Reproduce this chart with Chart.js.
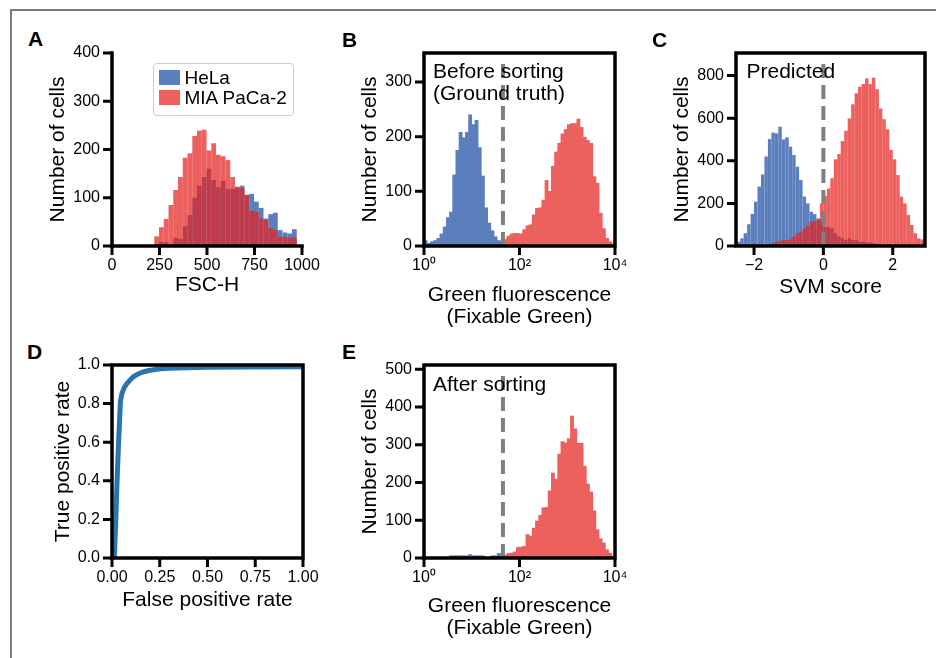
<!DOCTYPE html>
<html>
<head>
<meta charset="utf-8">
<script src="https://cdn.jsdelivr.net/npm/chart.js@4/dist/chart.umd.min.js"></script>
<style>
  html, body { margin: 0; padding: 0; background: #fff; }
  body { width: 936px; height: 658px; position: relative; overflow: hidden;
         font-family: 'Liberation Sans', Arial, Helvetica, sans-serif; color: #000; }
  .frame { position: absolute; left: 10px; top: 9px; right: 0; bottom: 0;
           border-top: 2px solid #7a7a7a; border-left: 2px solid #7a7a7a; }
  .panel { position: absolute; }
  .panel canvas { display: block; }
  .letter { position: absolute; font-weight: bold; font-size: 21px; line-height: 21px; z-index: 5; }
  .note { position: absolute; font-size: 21px; line-height: 22.7px; white-space: pre; z-index: 5; }
  .legend { position: absolute; box-sizing: border-box; border: 1.5px solid #cccccc; border-radius: 4px;
            background: rgba(255,255,255,0.85); z-index: 5; }
  .legend .sw { position: absolute; width: 21px; height: 15px; }
  .legend .tx { position: absolute; font-size: 19px; line-height: 19px; white-space: nowrap; }
</style>
</head>
<body>
<div class="frame"></div>

<div class="panel" style="left:46px;top:40px;"><canvas id="cA" width="280" height="258"></canvas></div>
<div class="panel" style="left:358px;top:40px;"><canvas id="cB" width="279" height="288"></canvas></div>
<div class="panel" style="left:670px;top:40px;"><canvas id="cC" width="266" height="260"></canvas></div>
<div class="panel" style="left:51px;top:352px;"><canvas id="cD" width="276" height="261"></canvas></div>
<div class="panel" style="left:358px;top:352px;"><canvas id="cE" width="279" height="287"></canvas></div>

<div class="letter" style="left:28px;top:28.3px;">A</div>
<div class="letter" style="left:342px;top:28.8px;">B</div>
<div class="letter" style="left:652px;top:28.8px;">C</div>
<div class="letter" style="left:27px;top:340.5px;">D</div>
<div class="letter" style="left:342px;top:340.5px;">E</div>

<div class="note" style="left:433px;top:59.7px;">Before sorting
(Ground truth)</div>
<div class="note" style="left:746.5px;top:59.7px;">Predicted</div>
<div class="note" style="left:433px;top:373px;">After sorting</div>

<div class="legend" id="legA" style="left:153px;top:63px;width:141px;height:53px;"></div>

<script>
// ---------------- data ----------------
const seriesNames = ['HeLa', 'MIA PaCa-2'];

// Panel A: FSC-H histogram (bin centres, counts)
const fscBins = [235,260,285,310,335,360,385,410,435,460,485,510,535,560,585,610,635,660,685,710,735,760,785,810,835,860,885,910,935,960];
const helaFsc = [0,8,8,3,17,15,41,64,100,125,143,160,137,122,135,118,118,123,125,106,108,92,79,57,66,69,33,28,26,35];
const miaFsc  = [20,39,56,85,116,143,183,192,228,239,241,198,213,189,186,178,143,120,120,106,73,71,57,54,37,33,19,19,18,18];

// Panels B / E: green fluorescence, 60 log-spaced bins between 10^0 and 10^4
const fluoBinCount = 60;
const fluoBins = Array.from({ length: fluoBinCount }, (_, k) => Math.pow(10, 4 * (k + 0.5) / fluoBinCount));
const helaFluoBefore = [10,5,8,10,14,22,35,52,62,130,175,208,198,208,240,222,230,180,128,70,42,28,17,10,8,
  0,0,0,0,0,0,0,0,0,0,0,0,0,0,0,0,0,0,0,0,0,0,0,0,0,0,0,0,0,0,0,0,0,0,0];
const miaFluoBefore = [0,0,0,0,0,0,0,0,0,0,0,0,0,0,0,0,0,0,0,0,0,0,0,0,0,
  12,18,22,23,23,22,30,37,39,57,69,70,84,120,100,146,172,188,205,213,222,224,224,232,217,199,193,188,127,115,60,32,14,8,4];
const helaFluoAfter = [0,0,0,0,0,0,0,0,6,6,6,6,6,6,9,6,6,6,6,0,0,6,6,12,12,
  0,0,0,0,0,0,0,0,0,0,0,0,0,0,0,0,0,0,0,0,0,0,0,0,0,0,0,0,0,0,0,0,0,0,0];
const miaFluoAfter = [0,0,0,0,0,0,0,0,0,0,0,0,0,0,0,0,0,0,0,0,0,0,0,0,0,
  8,12,13,16,28,29,31,62,58,79,98,113,133,134,178,225,209,275,308,305,316,376,342,304,304,243,196,175,125,75,51,40,22,13,5];
const fluoThreshold = 45;

// Panel C: SVM score histogram
const svmBins = [-2.45,-2.35,-2.25,-2.15,-2.05,-1.95,-1.85,-1.75,-1.65,-1.55,-1.45,-1.35,-1.25,-1.15,-1.05,-0.95,-0.85,-0.75,-0.65,-0.55,-0.45,-0.35,-0.25,-0.15,-0.05,
  0.05,0.15,0.25,0.35,0.45,0.55,0.65,0.75,0.85,0.95,1.05,1.15,1.25,1.35,1.45,1.55,1.65,1.75,1.85,1.95,2.05,2.15,2.25,2.35,2.45,2.55,2.65,2.75,2.85];
const helaSvm = [20,36,60,102,150,208,279,336,420,502,532,529,560,500,510,466,427,372,310,232,200,161,150,130,125,
  90,90,83,60,44,36,28,36,28,28,20,20,16,16,14,10,8,5,0,0,0,0,0,0,0,0,0,0,0];
const miaSvm = [0,0,0,0,0,0,0,0,0,0,15,20,23,28,28,31,44,60,67,83,94,114,117,122,200,
  235,270,318,407,432,493,541,599,665,717,748,760,787,760,790,736,646,595,548,451,407,333,232,200,146,99,60,36,31];
const svmThreshold = 0;

// Panel D: ROC curve
const rocFpr = [0.012,0.02,0.026,0.03,0.035,0.04,0.044,0.052,0.065,0.079,0.1,0.113,0.14,0.166,0.2,0.253,0.3,0.39,0.5,0.7,1.0];
const rocTpr = [0.0,0.2,0.386,0.49,0.61,0.72,0.81,0.853,0.885,0.905,0.928,0.94,0.955,0.965,0.973,0.98,0.983,0.986,0.988,0.99,0.991];

// axis ticks
const fscTicks = [0,250,500,750,1000];
const countTicksA = [0,100,200,300,400];
const countTicksB = [0,100,200,300];
const countTicksC = [0,200,400,600,800];
const countTicksE = [0,100,200,300,400,500];
const fluoTicks = [1,100,10000];
const fluoTickLabels = ['10\u2070','10\u00B2','10\u2074'];
const svmTicks = [-2,0,2];
const rateTicksX = [0,0.25,0.5,0.75,1];
const rateTicksY = [0,0.2,0.4,0.6,0.8,1];

// ---------------- style ----------------
const COLORS = {
  hela: '#5b7ebd',
  mia: 'rgba(229,34,31,0.72)',   // translucent, drawn over HeLa
  miaSolid: '#ec605e',           // same tint on white, used where there is no overlap
  threshold: '#808080',
  roc: '#2a74b0'
};

Chart.defaults.font.family = "'Liberation Sans', Arial, Helvetica, sans-serif";
Chart.defaults.color = '#000';

// spines + outward tick marks, placed with the chart's own scales
const spines = {
  id: 'spines',
  afterDatasetsDraw(chart, args, opts) {
    const { ctx, chartArea: a } = chart;
    const xs = chart.scales.x, ys = chart.scales.y;
    ctx.save();
    ctx.strokeStyle = '#000';
    ctx.lineCap = 'butt';
    ctx.lineWidth = 3;
    ctx.beginPath();
    xs.ticks.forEach(t => {
      const px = xs.getPixelForValue(t.value);
      ctx.moveTo(px, a.bottom);
      ctx.lineTo(px, a.bottom + 9);
    });
    ys.ticks.forEach(t => {
      const py = ys.getPixelForValue(t.value);
      ctx.moveTo(a.left - 9, py);
      ctx.lineTo(a.left, py);
    });
    ctx.stroke();
    ctx.lineWidth = 3.5;
    ctx.lineJoin = 'miter';
    ctx.lineCap = 'square';
    ctx.beginPath();
    if (opts.box) {
      ctx.rect(a.left, a.top, a.right - a.left, a.bottom - a.top);
    } else {
      ctx.moveTo(a.left, a.top);
      ctx.lineTo(a.left, a.bottom);
      ctx.lineTo(a.right, a.bottom);
    }
    ctx.stroke();
    ctx.restore();
  }
};

const fixedTicks = (vals) => (scale) => { scale.ticks = vals.map(v => ({ value: v })); };
const minusFmt = (v) => (v < 0 ? '\u2212' + Math.abs(v) : String(v));

function axis(opts) {
  const o = {
    type: opts.type || 'linear',
    min: opts.min, max: opts.max,
    offset: false,
    border: { display: false },
    grid: { display: false, drawOnChartArea: false, drawTicks: true, tickLength: 9, offset: false },
    ticks: { font: { size: 16 }, color: '#000', padding: opts.pad, autoSkip: false, maxRotation: 0,
             callback: opts.fmt },
    afterBuildTicks: fixedTicks(opts.ticks),
    title: { display: true, text: opts.title, color: '#000', padding: 0,
             font: { size: 21, lineHeight: opts.lh || 1.2 } }
  };
  if (opts.w) o.afterFit = (s) => { s.width = opts.w; };
  if (opts.h) o.afterFit = (s) => { s.height = opts.h; };
  return o;
}

function baseOptions(padRight, xScale, yScale, box) {
  return {
    responsive: false, animation: false, devicePixelRatio: 1,
    layout: { padding: { top: 13, right: padRight, left: 0, bottom: 0 } },
    plugins: { legend: { display: false }, tooltip: { enabled: false }, spines: { box: box } },
    scales: { x: xScale, y: yScale }
  };
}

const pts = (xs, ys) => xs.map((x, i) => ({ x: x, y: ys[i] }));
const barCommon = { grouped: false, barPercentage: 1, categoryPercentage: 1, borderWidth: 0 };
function histSets(xs, hela, mia, overlap) {
  return [
    Object.assign({ label: seriesNames[0], data: pts(xs, hela), backgroundColor: COLORS.hela, order: 2,
                    inflateAmount: overlap ? 0 : 'auto' }, barCommon),
    Object.assign({ label: seriesNames[1], data: pts(xs, mia), backgroundColor: overlap ? COLORS.mia : COLORS.miaSolid,
                    order: 1, inflateAmount: overlap ? 0 : 'auto' }, barCommon)
  ];
}
function thresholdSet(x, yTop) {
  return { type: 'line', data: [{ x: x, y: 0 }, { x: x, y: yTop }], borderColor: COLORS.threshold,
           borderWidth: 4, borderDash: [14, 7], pointRadius: 0, fill: false, order: 0 };
}

// ---------------- Panel A ----------------
new Chart(document.getElementById('cA'), {
  type: 'bar',
  data: { datasets: histSets(fscBins, helaFsc, miaFsc, true) },
  options: baseOptions(24,
    axis({ min: 0, max: 1000, ticks: fscTicks, fmt: (v) => String(v), title: 'FSC-H', h: 52, pad: 1 }),
    axis({ min: 0, max: 400, ticks: countTicksA, fmt: (v) => String(v), title: 'Number of cells', w: 66, pad: 3 }),
    false),
  plugins: [spines]
});

// ---------------- Panel B ----------------
const yMaxB = 353;
new Chart(document.getElementById('cB'), {
  type: 'bar',
  data: { datasets: histSets(fluoBins, helaFluoBefore, miaFluoBefore, false).concat([thresholdSet(fluoThreshold, yMaxB * 0.955)]) },
  options: baseOptions(22,
    axis({ type: 'logarithmic', min: 1, max: 10000, ticks: fluoTicks,
           fmt: (v) => fluoTickLabels[fluoTicks.indexOf(v)], title: ['Green fluorescence', '(Fixable Green)'],
           lh: 1.05, h: 82, pad: 1 }),
    axis({ min: 0, max: yMaxB, ticks: countTicksB, fmt: (v) => String(v), title: 'Number of cells', w: 66, pad: 3 }),
    true),
  plugins: [spines]
});

// ---------------- Panel C ----------------
const yMaxC = 906;
new Chart(document.getElementById('cC'), {
  type: 'bar',
  data: { datasets: histSets(svmBins, helaSvm, miaSvm, true).concat([thresholdSet(svmThreshold, yMaxC * 0.955)]) },
  options: baseOptions(11,
    axis({ min: -2.52, max: 2.93, ticks: svmTicks, fmt: minusFmt, title: 'SVM score', h: 54, pad: 1 }),
    axis({ min: 0, max: yMaxC, ticks: countTicksC, fmt: (v) => String(v), title: 'Number of cells', w: 66, pad: 3 }),
    true),
  plugins: [spines]
});

// ---------------- Panel D ----------------
new Chart(document.getElementById('cD'), {
  type: 'scatter',
  data: { datasets: [{ data: pts(rocFpr, rocTpr), showLine: true, borderColor: COLORS.roc, borderWidth: 5,
                       pointRadius: 0, tension: 0, fill: false }] },
  options: baseOptions(24,
    axis({ min: 0, max: 1, ticks: rateTicksX, fmt: (v) => v.toFixed(2), title: 'False positive rate', h: 55, pad: 1 }),
    axis({ min: 0, max: 1, ticks: rateTicksY, fmt: (v) => v.toFixed(1), title: 'True positive rate', w: 61, pad: 3 }),
    true),
  plugins: [spines]
});

// ---------------- Panel E ----------------
const yMaxE = 511;
new Chart(document.getElementById('cE'), {
  type: 'bar',
  data: { datasets: histSets(fluoBins, helaFluoAfter, miaFluoAfter, false).concat([thresholdSet(fluoThreshold, yMaxE * 0.957)]) },
  options: baseOptions(22,
    axis({ type: 'logarithmic', min: 1, max: 10000, ticks: fluoTicks,
           fmt: (v) => fluoTickLabels[fluoTicks.indexOf(v)], title: ['Green fluorescence', '(Fixable Green)'],
           lh: 1.05, h: 81, pad: 1 }),
    axis({ min: 0, max: yMaxE, ticks: countTicksE, fmt: (v) => String(v), title: 'Number of cells', w: 66, pad: 3 }),
    true),
  plugins: [spines]
});

// ---------------- Legend (panel A) ----------------
const leg = document.getElementById('legA');
[COLORS.hela, COLORS.miaSolid].forEach((c, i) => {
  const sw = document.createElement('div');
  sw.className = 'sw';
  sw.style.left = '4.5px';
  sw.style.top = (5.5 + 20 * i) + 'px';
  sw.style.background = c;
  leg.appendChild(sw);
  const tx = document.createElement('div');
  tx.className = 'tx';
  tx.style.left = '30.5px';
  tx.style.top = (4.4 + 20 * i) + 'px';
  tx.textContent = seriesNames[i];
  leg.appendChild(tx);
});
</script>
</body>
</html>
